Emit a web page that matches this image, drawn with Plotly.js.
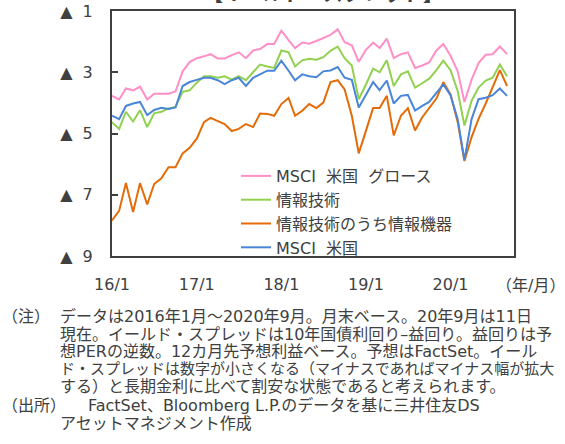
<!DOCTYPE html>
<html>
<head>
<meta charset="utf-8">
<script src="https://cdn.plot.ly/plotly-3.0.1.min.js"></script>
<style>
html,body{margin:0;padding:0;background:#fff;}
#chart{width:565px;height:444px;}
</style>
</head>
<body>
<div id="chart"></div>
<script>
// ---- data (monthly, Jan 2016 – Sep 2020) ----
const startYear = 2016, startMonth = 1, nMonths = 57;
const months = [];
for (let k = 0; k < nMonths; k++) {
  const y = startYear + Math.floor((startMonth - 1 + k) / 12);
  const m = ((startMonth - 1 + k) % 12) + 1;
  months.push(y + '-' + String(m).padStart(2, '0') + '-01');
}

const seriesNames = ['MSCI\u00a0\u00a0米国\u00a0\u00a0グロース', '情報技術', '情報技術のうち情報機器', 'MSCI\u00a0\u00a0米国'];

const msciGrowth = [-3.77,-3.89,-3.53,-3.59,-3.47,-3.89,-3.70,-3.70,-3.70,-3.63,
  -2.97,-2.67,-2.54,-2.48,-2.41,-2.55,-2.55,-2.44,-2.35,-2.54,
  -2.29,-2.24,-2.08,-2.08,-1.64,-1.95,-2.21,-2.03,-2.07,-1.98,
  -1.87,-1.78,-1.60,-2.02,-2.12,-2.66,-2.27,-2.03,-2.21,-1.90,
  -2.54,-2.41,-2.35,-2.86,-2.78,-2.68,-2.29,-2.08,-2.46,-2.97,
  -3.97,-3.24,-2.70,-2.43,-2.41,-2.16,-2.41];

const infoTech = [-4.63,-4.85,-4.29,-4.61,-4.24,-4.79,-4.34,-4.29,-4.18,-4.13,
  -3.64,-3.59,-3.34,-3.13,-3.13,-3.18,-3.13,-3.24,-3.13,-3.26,
  -3.00,-2.75,-2.81,-2.86,-2.29,-2.35,-2.81,-2.61,-2.56,-2.59,
  -2.51,-2.30,-2.16,-2.54,-2.78,-3.88,-3.40,-2.88,-3.00,-2.61,
  -3.45,-3.07,-2.97,-3.50,-3.36,-3.21,-2.93,-2.62,-2.93,-3.61,
  -4.74,-3.93,-3.50,-3.27,-3.18,-2.75,-3.13];

const techHardware = [-7.84,-7.52,-6.62,-7.56,-6.62,-7.32,-6.65,-6.46,-6.10,-6.10,
  -5.65,-5.47,-5.17,-4.63,-4.49,-4.60,-4.69,-4.92,-4.85,-4.69,
  -4.79,-4.35,-4.36,-4.42,-4.04,-3.84,-4.42,-4.26,-4.04,-4.17,
  -3.99,-3.32,-3.26,-3.56,-4.42,-5.65,-4.90,-4.17,-4.17,-3.77,
  -5.06,-4.42,-4.17,-4.90,-4.47,-4.15,-3.86,-3.32,-3.72,-4.63,
  -5.90,-5.12,-4.52,-4.02,-3.50,-2.93,-3.45];

const msciUS = [-4.42,-4.53,-4.10,-4.02,-3.97,-4.40,-4.23,-4.16,-4.20,-4.15,
  -3.45,-3.32,-3.25,-3.18,-3.18,-3.26,-3.39,-3.26,-3.18,-3.45,
  -3.18,-3.07,-2.95,-2.95,-2.62,-2.95,-3.26,-3.07,-3.13,-3.16,
  -2.97,-2.94,-2.83,-3.18,-3.25,-4.15,-3.72,-3.32,-3.58,-3.27,
  -4.02,-3.77,-3.74,-4.25,-4.10,-3.97,-3.67,-3.40,-3.75,-4.53,
  -5.87,-4.53,-3.88,-3.83,-3.75,-3.53,-3.77];

const seriesValues = [msciGrowth, infoTech, techHardware, msciUS];
const seriesColors = ['#FF8FC6', '#92D050', '#E36C09', '#4A86D8'];

const xTickVals = ['2016-01-01','2017-01-01','2018-01-01','2019-01-01','2020-01-01'];
const xTickText = ['16/1','17/1','18/1','19/1','20/1'];
const yTickVals = [-9,-7,-5,-3,-1];
const yTickText = ['▲\u00a0\u00a09','▲\u00a0\u00a07','▲\u00a0\u00a05','▲\u00a0\u00a03','▲\u00a0\u00a01'];

const titleText = '【イールド・スプレッド】';
const unitText = '（年/月）';
const noteLines = [
  ['（注）', 'データは2016年1月～2020年9月。月末ベース。20年9月は11日'],
  ['', '現在。イールド・スプレッドは10年国債利回り–益回り。益回りは予'],
  ['', '想PERの逆数。12カ月先予想利益ベース。予想はFactSet。イール'],
  ['', 'ド・スプレッドは数字が小さくなる（マイナスであればマイナス幅が拡大'],
  ['', 'する）と長期金利に比べて割安な状態であると考えられます。'],
  ['（出所）', 'FactSet、Bloomberg L.P.のデータを基に三井住友DS'],
  ['', 'アセットマネジメント作成']
];

// ---- chart ----
const FONT = 'DejaVu Sans, "Noto Sans CJK JP", sans-serif';
const TXT = '#404040';
const W = 565, H = 444;
const M = {l: 112, r: 51, t: 11, b: 188};
const pw = W - M.l - M.r, ph = H - M.t - M.b;
const px2x = p => (p - M.l) / pw;
const py2y = p => (H - M.b - p) / ph;

const traces = seriesNames.map((nm, k) => ({
  type: 'scatter', mode: 'lines', name: nm,
  x: months, y: seriesValues[k],
  line: {color: seriesColors[k], width: 2}
}));

const annotations = [];
annotations.push({xref:'paper', yref:'paper', x: px2x(323), y: py2y(8), xanchor:'center', yanchor:'bottom',
  text: '<b>' + titleText + '</b>', showarrow:false, font:{family:FONT, size:20, color:TXT}});
annotations.push({xref:'paper', yref:'paper', x: px2x(530), y: py2y(285), xanchor:'center', yanchor:'middle',
  text: unitText, showarrow:false, font:{family:FONT, size:16, color:TXT}});
const lineY = [316, 334, 351, 369, 386, 405, 423];
const lineSize = [16, 16, 16, 15, 16, 16, 16];
noteLines.forEach((ln, k) => {
  if (ln[0]) annotations.push({xref:'paper', yref:'paper', x: px2x(0), y: py2y(lineY[k]), xanchor:'left', yanchor:'middle',
    text: ln[0], showarrow:false, font:{family:FONT, size:16, color:TXT}});
  const lx = (k === 5) ? 86 : 58;
  annotations.push({xref:'paper', yref:'paper', x: px2x(lx), y: py2y(lineY[k]), xanchor:'left', yanchor:'middle',
    text: ln[1], showarrow:false, font:{family:FONT, size:lineSize[k], color:TXT}});
});

const layout = {
  width: W, height: H,
  margin: M,
  paper_bgcolor: '#fff', plot_bgcolor: '#fff',
  showlegend: true,
  legend: {x: px2x(236), y: py2y(159), xanchor:'left', yanchor:'top',
    bgcolor:'rgba(0,0,0,0)', font:{family:FONT, size:16, color:TXT}, itemwidth:30, tracegroupgap:0},
  xaxis: {type:'date', range:['2016-01-01','2020-10-01'], tickvals:xTickVals, ticktext:xTickText,
    showgrid:false, zeroline:false, showline:true, mirror:true, linecolor:'#404040', linewidth:2,
    ticks:'', ticklabelstandoff:13, tickfont:{family:FONT, size:16, color:TXT}},
  yaxis: {range:[-9,-1], tickvals:yTickVals, ticktext:yTickText,
    showgrid:false, zeroline:false, showline:true, mirror:true, linecolor:'#404040', linewidth:2,
    ticks:'inside', ticklen:6, tickwidth:2, tickcolor:'#404040', ticklabelstandoff:14,
    tickfont:{family:FONT, size:16, color:TXT}},
  annotations: annotations
};

Plotly.newPlot('chart', traces, layout, {staticPlot:true, displayModeBar:false});
</script>
</body>
</html>
